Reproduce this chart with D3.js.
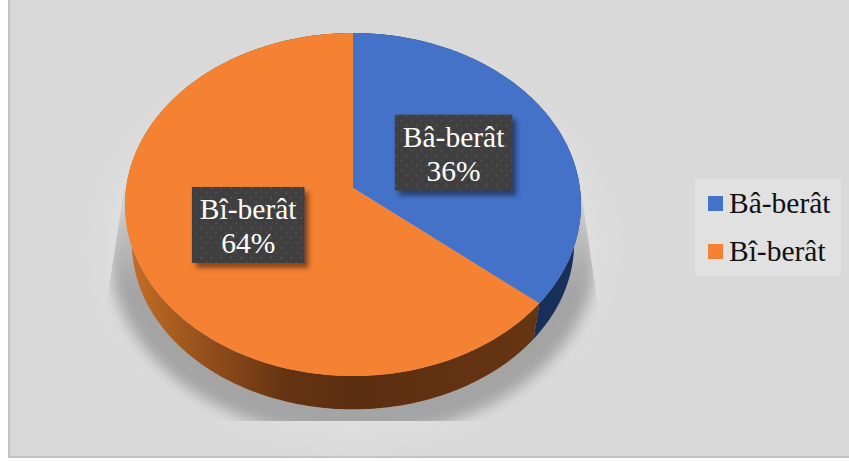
<!DOCTYPE html>
<html>
<head>
<meta charset="utf-8">
<script src="https://cdnjs.cloudflare.com/ajax/libs/d3/7.8.5/d3.min.js"></script>
<style>
  html, body { margin: 0; padding: 0; background: #fff; }
  svg { display: block; }
  text { font-family: "Liberation Serif", serif; }
</style>
</head>
<body>
<div id="vis"></div>
<script>
// values
var categories = ["Bâ-berât", "Bî-berât"];
var percents = [36, 64];
var topColors = ["#4472c8", "#f58233"];

var width = 849, height = 461;

var svg = d3.select("#vis").append("svg")
    .attr("width", width)
    .attr("height", height);

var defs = svg.append("defs");

// tilted disc: unit circle through a small perspective
var cx = 353, cy = 188, a = 226.9, b = 169.9, k = -0.0962;
function project(angle, r) {
  var u = Math.sin(angle) * r, v = -Math.cos(angle) * r;
  var w = 1 + k * v;
  return [cx + a * u / w, cy + b * v / w];
}
// bottom rim of the disc, slightly smaller and lower
var baseScale = 0.97, baseY = 227;
function projectBase(angle) {
  var p = project(angle, 1);
  return [cx + baseScale * (p[0] - cx), baseY + baseScale * (p[1] - cy)];
}

function arcAngles(a0, a1) {
  var n = Math.max(2, Math.ceil((a1 - a0) * 60));
  return d3.range(n + 1).map(function(i) { return a0 + (a1 - a0) * i / n; });
}

var line = d3.line();
var pie = d3.pie().sort(null)(percents);
var color = d3.scaleOrdinal().domain(categories).range(topColors);

/* defs */
function blurFilter(id, dev) {
  defs.append("filter").attr("id", id)
      .attr("x", "-20%").attr("y", "-20%").attr("width", "140%").attr("height", "140%")
    .append("feGaussianBlur").attr("stdDeviation", dev);
}
blurFilter("haloBlur", 14);
blurFilter("blurShadow", 7);
blurFilter("boxShadow", 2.5);

// the cast shadow has sharp slanted sides at the top and a cut at the bottom
defs.append("clipPath").attr("id", "castClip")
  .append("path").attr("d", "M124,190 L107,300 L107,421 L600,421 L597,300 L581,190 Z");

var castFill = defs.append("linearGradient").attr("id", "castFill")
    .attr("gradientUnits", "userSpaceOnUse")
    .attr("x1", 0).attr("y1", 190).attr("x2", 0).attr("y2", 290);
castFill.append("stop").attr("offset", "0%").attr("stop-color", "#d0d0d0");
castFill.append("stop").attr("offset", "100%").attr("stop-color", "#a4a4a4");

var sideOrange = defs.append("linearGradient").attr("id", "sideOrange")
    .attr("gradientUnits", "userSpaceOnUse")
    .attr("x1", 130).attr("y1", 0).attr("x2", 540).attr("y2", 0);
[[0, "#c56d25"], [0.18, "#95501c"], [0.38, "#653312"], [0.55, "#5c2e10"], [1, "#663512"]].forEach(function(s) {
  sideOrange.append("stop").attr("offset", s[0]).attr("stop-color", s[1]);
});

var dots = defs.append("pattern").attr("id", "dots")
    .attr("patternUnits", "userSpaceOnUse")
    .attr("width", 10).attr("height", 10);
dots.append("rect").attr("width", 10).attr("height", 10).attr("fill", "#3f3f3f");
dots.append("rect").attr("x", 2).attr("y", 2).attr("width", 2).attr("height", 2).attr("fill", "#505050");
dots.append("rect").attr("x", 7).attr("y", 7).attr("width", 2).attr("height", 2).attr("fill", "#4c4c4c");

/* panel */
svg.append("rect")
    .attr("x", 9).attr("y", -4)
    .attr("width", width).attr("height", 461)
    .attr("fill", "#d9d9d9")
    .attr("stroke", "#c3c3c3")
    .attr("stroke-width", 2);

/* shadow under the disc */
var full = arcAngles(0, 2 * Math.PI);
function grownBase(scale, shift) {
  var mid = 243;
  return line(full.map(function(t) {
    var p = projectBase(t);
    return [cx + scale * (p[0] - cx), mid + shift + scale * (p[1] - mid)];
  })) + "Z";
}

// faint lighter glow around the shadow
svg.append("path")
    .attr("d", grownBase(1.14, 4))
    .attr("fill", "#dfdfdf")
    .attr("filter", "url(#haloBlur)");

svg.append("g").attr("clip-path", "url(#castClip)")
  .append("path")
    .attr("d", grownBase(1.1, 11))
    .attr("fill", "url(#castFill)")
    .attr("filter", "url(#blurShadow)");

/* disc wall, one band per slice */
var sideFill = ["#172f59", "url(#sideOrange)"];
svg.selectAll(".wall")
    .data(pie)
  .enter().append("path")
    .attr("class", "wall")
    .attr("d", function(d) {
      var ts = arcAngles(d.startAngle, d.endAngle);
      var upper = ts.map(function(t) { return project(t, 1); });
      var lower = ts.slice().reverse().map(projectBase);
      return line(upper.concat(lower)) + "Z";
    })
    .attr("fill", function(d, i) { return sideFill[i]; });

/* top of the disc */
svg.selectAll(".slice")
    .data(pie)
  .enter().append("path")
    .attr("class", "slice")
    .attr("d", function(d) {
      var pts = arcAngles(d.startAngle, d.endAngle).map(function(t) { return project(t, 1); });
      return line([[cx, cy]].concat(pts)) + "Z";
    })
    .attr("fill", function(d) { return color(categories[d.index]); });

/* data labels */
var labelFont = "29.5px", boxH = 76, boxPad = 8;
var labels = svg.selectAll(".dataLabel")
    .data(pie)
  .enter().append("g")
    .attr("class", "dataLabel")
    .attr("transform", function(d) {
      var p = project((d.startAngle + d.endAngle) / 2, 0.5);
      return "translate(" + p[0] + "," + p[1] + ")";
    });

var boxShadows = labels.append("rect")
    .attr("y", -boxH / 2 + 5)
    .attr("height", boxH)
    .attr("fill", "#000").attr("opacity", 0.45)
    .attr("filter", "url(#boxShadow)");

var boxes = labels.append("rect")
    .attr("y", -boxH / 2)
    .attr("height", boxH)
    .attr("fill", "url(#dots)");

var names = labels.append("text")
    .attr("text-anchor", "middle")
    .attr("y", -6)
    .attr("font-size", labelFont)
    .attr("fill", "#fff")
    .text(function(d) { return categories[d.index]; });

labels.append("text")
    .attr("text-anchor", "middle")
    .attr("y", 28)
    .attr("font-size", labelFont)
    .attr("fill", "#fff")
    .text(function(d) { return d.value + "%"; });

// box hugs the label text
var boxWidths = names.nodes().map(function(n) { return n.getComputedTextLength() + 2 * boxPad; });
boxes.attr("x", function(d, i) { return -boxWidths[i] / 2; })
    .attr("width", function(d, i) { return boxWidths[i]; });
boxShadows.attr("x", function(d, i) { return -boxWidths[i] / 2 + 4; })
    .attr("width", function(d, i) { return boxWidths[i]; });

/* legend */
var legend = svg.append("g");
legend.append("rect")
    .attr("x", 695).attr("y", 179)
    .attr("width", 146).attr("height", 97)
    .attr("fill", "#e1e1e1");

var legendY = d3.scalePoint().domain(categories).range([203.5, 251.5]);

legend.selectAll(".swatch")
    .data(categories)
  .enter().append("rect")
    .attr("class", "swatch")
    .attr("x", 708)
    .attr("y", function(d) { return legendY(d) - 7.5; })
    .attr("width", 15).attr("height", 15)
    .attr("fill", function(d) { return color(d); });

legend.selectAll(".legendText")
    .data(categories)
  .enter().append("text")
    .attr("class", "legendText")
    .attr("x", 729)
    .attr("y", function(d) { return legendY(d) + 9.5; })
    .attr("font-size", labelFont)
    .attr("fill", "#111")
    .text(function(d) { return d; });
</script>
</body>
</html>
